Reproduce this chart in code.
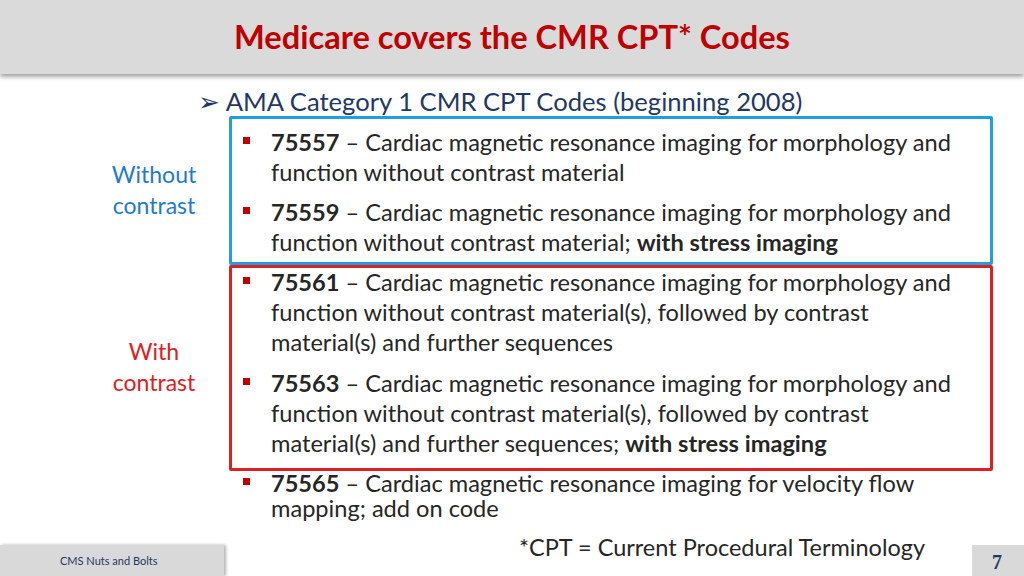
<!DOCTYPE html>
<html><head><meta charset="utf-8">
<script src="https://cdn.jsdelivr.net/npm/chart.js@4"></script>
<style>
body{margin:0;width:1024px;height:576px;overflow:hidden;background:#fff;font-family:Lato,"Open Sans",sans-serif;position:relative}
.abs{position:absolute;white-space:nowrap}
#hdr{left:0;top:0;width:1024px;height:74px;background:#dadada;box-shadow:0 3px 4px rgba(0,0,0,.35)}
#title{left:0;width:1024px;top:17px;text-align:center;color:#c00000;font-weight:bold;font-size:32.6px}
.line{font-size:23.6px;color:#262626;line-height:25px}
.sq{position:absolute;width:7px;height:7px;background:#c00000}
.box{position:absolute;border:3px solid;border-radius:2px}
.lbl{font-size:23px;text-align:center;width:120px}
</style></head><body>
<div id="hdr" class="abs"></div>
<div id="title" class="abs">Medicare covers the CMR CPT* Codes</div>
<div class="abs" style="left:198px;top:86px;font-size:25.6px;color:#1f3864">&#10146; <span style="color:#1f3864">AMA Category 1 CMR CPT Codes (beginning 2008)</span></div>
<div class="box" style="left:229px;top:116px;width:758px;height:143px;border-color:#1ea0e0"></div>
<div class="box" style="left:229px;top:265px;width:758px;height:200px;border-color:#e02020"></div>
<div class="abs lbl" style="left:94px;top:159px;color:#1f7ad0;line-height:31px">Without<br>contrast</div>
<div class="abs lbl" style="left:94px;top:336px;color:#e02020;line-height:31px">With<br>contrast</div>
<div id="items"></div>
<div class="abs" style="left:0;top:545px;width:224px;height:31px;background:#d9d9d9;box-shadow:2px 0 3px rgba(0,0,0,.3)"></div>
<div class="abs" style="left:60px;top:554px;font-size:11px;color:#1f3864">CMS Nuts and Bolts</div>
<div class="abs" style="left:519px;top:533px;font-size:23.5px;color:#262626">*CPT = Current Procedural Terminology</div>
<div class="abs" style="left:972px;top:545px;width:52px;height:31px;background:#d9d9d9"></div>
<div class="abs" style="left:992px;top:551px;font-size:20px;font-weight:bold;font-family:'Liberation Serif',serif;color:#1f3864">7</div>
<script>
const codes = ['75557', '75559', '75561', '75563', '75565'];
const firstLines = [
  'Cardiac magnetic resonance imaging for morphology and',
  'Cardiac magnetic resonance imaging for morphology and',
  'Cardiac magnetic resonance imaging for morphology and',
  'Cardiac magnetic resonance imaging for morphology and',
  'Cardiac magnetic resonance imaging for velocity flow'
];
const restLines = [
  ['function without contrast material'],
  ['function without contrast material; <b>with stress imaging</b>'],
  ['function without contrast material(s), followed by contrast', 'material(s) and further sequences'],
  ['function without contrast material(s), followed by contrast', 'material(s) and further sequences; <b>with stress imaging</b>'],
  ['mapping; add on code']
];
const itemTops = [130, 200, 270, 371, 471];
const lineGap = [30, 30, 30, 30, 25];

const box = document.getElementById('items');
codes.forEach((c, i) => {
  const t = itemTops[i];
  box.insertAdjacentHTML('beforeend',
    `<div class="sq" style="left:243px;top:${t + 7}px"></div>
     <div class="abs line" style="left:271px;top:${t}px"><b>${c}</b> &ndash; ${firstLines[i]}</div>`);
  restLines[i].forEach((l, j) => {
    box.insertAdjacentHTML('beforeend',
      `<div class="abs line" style="left:271px;top:${t + lineGap[i] * (j + 1)}px">${l}</div>`);
  });
});
</script>
</body></html>
